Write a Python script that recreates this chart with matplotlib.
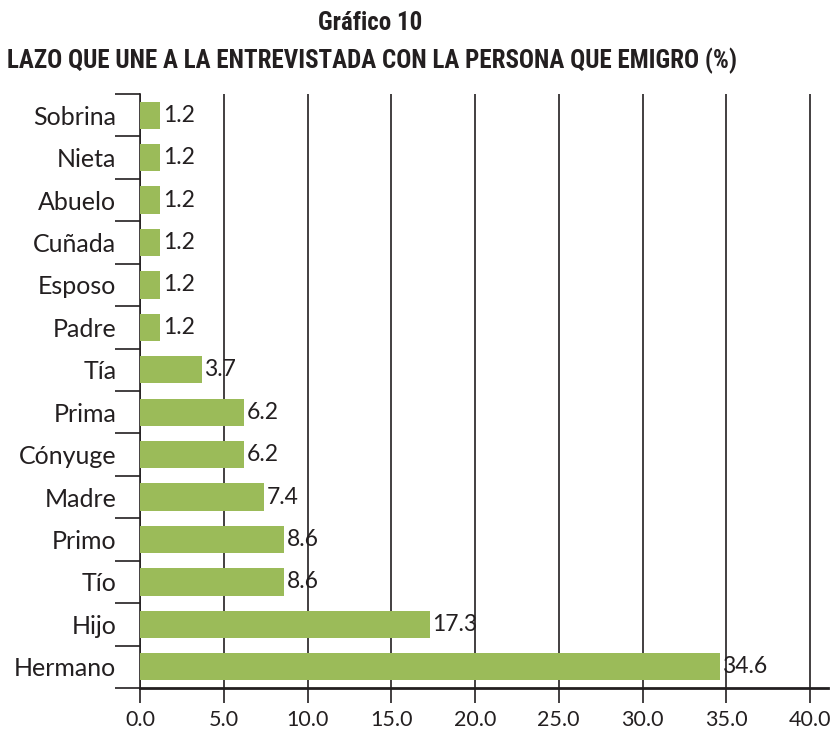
import matplotlib
matplotlib.use("Agg")
import matplotlib.pyplot as plt
from matplotlib import font_manager

categories = ["Sobrina", "Nieta", "Abuelo", "Cuñada", "Esposo", "Padre", "Tía",
              "Prima", "Cónyuge", "Madre", "Primo", "Tío", "Hijo", "Hermano"]
values = [1.2, 1.2, 1.2, 1.2, 1.2, 1.2, 3.7, 6.2, 6.2, 7.4, 8.6, 8.6, 17.3, 34.6]
xticks = [0, 5, 10, 15, 20, 25, 30, 35, 40]
title1 = "Gráfico 10"
title2 = "LAZO QUE UNE A LA ENTREVISTADA CON LA PERSONA QUE EMIGRO (%)"

names = {f.name for f in font_manager.fontManager.ttflist}
def pick(cands, default):
    for c in cands:
        if c in names:
            return c
    return default

title_font = pick(["Roboto Condensed", "Fira Sans Condensed", "PT Sans Narrow",
                   "Open Sans Condensed", "Archivo Narrow", "Liberation Sans Narrow"], "DejaVu Sans")
body_font = pick(["Lato"], "Open Sans")

fig = plt.figure(figsize=(8.31, 7.33), dpi=100)
ax = fig.add_axes([140/831, 1-688/733, 688/831, 594/733])

n = len(categories)
ypos = list(range(n))[::-1]
ax.barh(ypos, values, height=0.64, color="#9BBB59", zorder=3)
for y, v in zip(ypos, values):
    ax.text(v + 0.15, y, f"{v:.1f}", va="center", ha="left",
            fontsize=16.5, family=body_font, color="#231f20", zorder=4)

ax.set_xlim(0, 40 * 688 / 670)
ax.set_ylim(-0.5, n - 0.5)
ax.set_xticks(xticks)
ax.set_xticklabels([f"{t:.1f}" for t in xticks], fontsize=15.5, family=body_font, color="#231f20")
ax.set_yticks(ypos)
ax.set_yticklabels(categories, fontsize=18, family=body_font, color="#231f20")
ax.tick_params(axis="y", length=0, pad=17)
ax.set_yticks([i + 0.5 for i in range(-1, n)], minor=True)
ax.tick_params(axis="y", which="minor", length=18, width=1.2, color="#231f20")
ax.tick_params(axis="x", length=11, width=1.2, color="#231f20", pad=5)
ax.grid(axis="x", color="#231f20", linewidth=1.2, zorder=1)
for s in ["top", "right"]:
    ax.spines[s].set_visible(False)
ax.spines["left"].set_linewidth(1.2)
ax.spines["bottom"].set_linewidth(2)
ax.spines["left"].set_color("#231f20")
ax.spines["bottom"].set_color("#231f20")

fig.text(370/831, 1-23/733, title1, ha="center", va="center", fontsize=18,
         fontweight="bold", family=title_font, color="#231f20")
fig.text(372/831, 1-61/733, title2, ha="center", va="center", fontsize=18,
         fontweight="bold", family=title_font, color="#231f20")

fig.savefig("out.png", dpi=100)
